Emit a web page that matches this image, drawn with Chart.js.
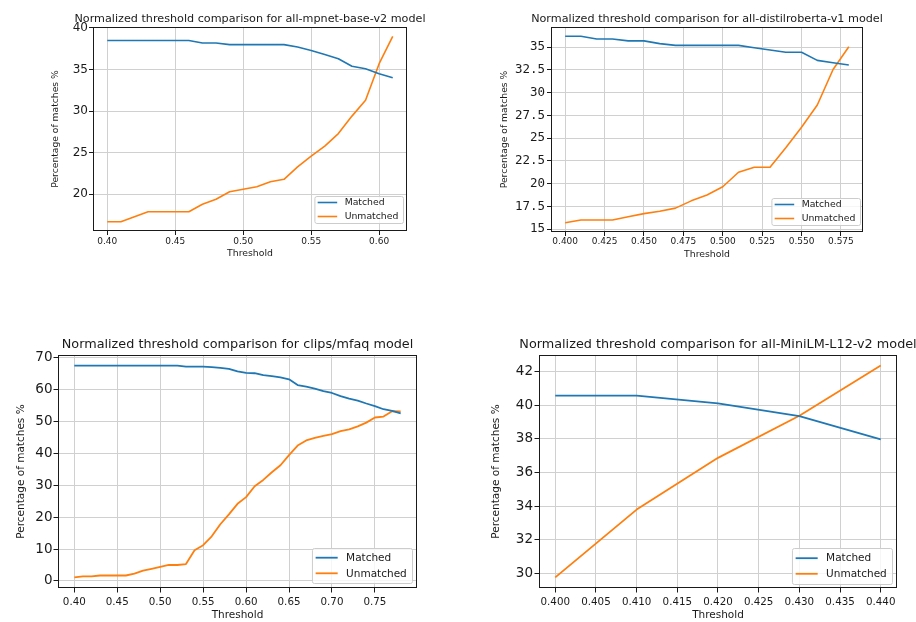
<!DOCTYPE html>
<html>
<head>
<meta charset="utf-8">
<title>Normalized threshold comparison</title>
<script src="https://cdn.jsdelivr.net/npm/chart.js@4.4.1/dist/chart.umd.min.js"></script>
<style>
  html, body { margin: 0; padding: 0; background: #fff; }
  body { width: 916px; height: 622px; position: relative; overflow: hidden; }
  canvas { position: absolute; }
</style>
</head>
<body>
<canvas id="mpnet" width="458" height="300" style="left:0;top:0"></canvas>
<canvas id="distilroberta" width="458" height="300" style="left:458px;top:0"></canvas>
<canvas id="mfaq" width="458" height="322" style="left:0;top:300px"></canvas>
<canvas id="minilm" width="458" height="322" style="left:458px;top:300px"></canvas>
<script>
// ---- data ----

// all-mpnet-base-v2
const mpnetThresholds = [0.40, 0.41, 0.42, 0.43, 0.44, 0.45, 0.46, 0.47, 0.48, 0.49, 0.50,
  0.51, 0.52, 0.53, 0.54, 0.55, 0.56, 0.57, 0.58, 0.59, 0.60, 0.61]
const mpnetMatched = [38.5, 38.5, 38.5, 38.5, 38.5, 38.5, 38.5, 38.2, 38.2, 38.0, 38.0,
  38.0, 38.0, 38.0, 37.7, 37.3, 36.8, 36.3, 35.4, 35.1, 34.5, 34.0]
const mpnetUnmatched = [16.7, 16.7, 17.3, 17.9, 17.9, 17.9, 17.9, 18.8, 19.4, 20.3, 20.6,
  20.9, 21.5, 21.8, 23.3, 24.6, 25.8, 27.3, 29.4, 31.3, 35.7, 39.0]
const mpnetXTicks = [0.40, 0.45, 0.50, 0.55, 0.60]
const mpnetYTicks = [20, 25, 30, 35, 40]

// all-distilroberta-v1
const distilThresholds = [0.40, 0.41, 0.42, 0.43, 0.44, 0.45, 0.46, 0.47, 0.48, 0.49,
  0.50, 0.51, 0.52, 0.53, 0.54, 0.55, 0.56, 0.57, 0.58]
const distilMatched = [36.2, 36.2, 35.9, 35.9, 35.7, 35.7, 35.4, 35.2, 35.2, 35.2,
  35.2, 35.2, 34.95, 34.7, 34.45, 34.45, 33.55, 33.3, 33.05]
const distilUnmatched = [15.7, 16.0, 16.0, 16.0, 16.35, 16.7, 16.95, 17.3, 18.1, 18.75,
  19.65, 21.25, 21.8, 21.8, 23.95, 26.2, 28.65, 32.55, 35.05]
const distilXTicks = [0.400, 0.425, 0.450, 0.475, 0.500, 0.525, 0.550, 0.575]
const distilYTicks = [15, 17.5, 20, 22.5, 25, 27.5, 30, 32.5, 35]

// clips/mfaq
const mfaqThresholds = [0.40, 0.41, 0.42, 0.43, 0.44, 0.45, 0.46, 0.47, 0.48, 0.49,
  0.50, 0.51, 0.52, 0.53, 0.54, 0.55, 0.56, 0.57, 0.58, 0.59,
  0.60, 0.61, 0.62, 0.63, 0.64, 0.65, 0.66, 0.67, 0.68, 0.69,
  0.70, 0.71, 0.72, 0.73, 0.74, 0.75, 0.76, 0.77, 0.78]
const mfaqMatched = [67.6, 67.6, 67.6, 67.6, 67.6, 67.6, 67.6, 67.6, 67.6, 67.6,
  67.6, 67.6, 67.6, 67.3, 67.3, 67.3, 67.1, 66.9, 66.6, 65.8,
  65.3, 65.2, 64.6, 64.3, 63.9, 63.3, 61.5, 61.0, 60.4, 59.6,
  59.0, 58.0, 57.2, 56.6, 55.7, 54.9, 53.9, 53.4, 52.6]
const mfaqUnmatched = [1.1, 1.4, 1.4, 1.7, 1.7, 1.7, 1.7, 2.3, 3.2, 3.8,
  4.4, 5.0, 5.0, 5.3, 9.6, 11.2, 14.0, 17.8, 20.9, 24.2,
  26.3, 29.7, 31.7, 34.1, 36.3, 39.5, 42.5, 44.1, 44.9, 45.5,
  46.1, 47.0, 47.6, 48.5, 49.7, 51.3, 51.6, 53.3, 53.2]
const mfaqXTicks = [0.40, 0.45, 0.50, 0.55, 0.60, 0.65, 0.70, 0.75]
const mfaqYTicks = [0, 10, 20, 30, 40, 50, 60, 70]

// all-MiniLM-L12-v2
const minilmThresholds = [0.40, 0.41, 0.42, 0.43, 0.44]
const minilmMatched = [40.56, 40.56, 40.1, 39.35, 37.97]
const minilmUnmatched = [29.78, 33.8, 36.87, 39.37, 42.34]
const minilmXTicks = [0.400, 0.405, 0.410, 0.415, 0.420, 0.425, 0.430, 0.435, 0.440]
const minilmYTicks = [30, 32, 34, 36, 38, 40, 42]

// ---- styling ----
const FONT = '"DejaVu Sans", sans-serif'
const MONO = '"DejaVu Sans Mono", monospace'
const BLUE = '#1f77b4'
const ORANGE = '#ff7f0e'
const GRID = '#d0d0d0'
const INK = '#1a1a1a'

// matplotlib pads the data range by 5% on each side
function padRange(values) {
  const lo = Math.min(...values)
  const hi = Math.max(...values)
  const m = (hi - lo) * 0.05
  return { min: lo - m, max: hi + m }
}

// Axes frame, axes-centred title and the boxed lower-right legend
const mplAxes = {
  id: 'mplAxes',
  afterDraw(chart, _args, opts) {
    const { ctx, chartArea: a } = chart
    ctx.save()

    ctx.strokeStyle = INK
    ctx.lineWidth = 1
    ctx.strokeRect(Math.round(a.left) + 0.5, Math.round(a.top) + 0.5,
      Math.round(a.right - a.left) - 1, Math.round(a.bottom - a.top) - 1)

    ctx.fillStyle = INK
    ctx.font = `${opts.titleSize}px ${FONT}`
    ctx.textAlign = 'center'
    ctx.textBaseline = 'alphabetic'
    ctx.fillText(opts.title, (a.left + a.right) / 2, opts.titleY)

    const lg = opts.legend
    const em = lg.size
    ctx.font = `${em}px ${FONT}`
    const sets = chart.data.datasets
    const tw = Math.max(...sets.map(d => ctx.measureText(d.label).width))
    const w = 0.35 * em + 2.1 * em + 0.8 * em + tw + 0.5 * em
    const h = lg.height
    const x0 = a.right - lg.inset[0] - w
    const y0 = a.bottom - lg.inset[1] - h
    ctx.beginPath()
    ctx.roundRect(x0 + 0.5, y0 + 0.5, w, h, 2)
    ctx.fillStyle = 'rgba(255,255,255,0.8)'
    ctx.fill()
    ctx.strokeStyle = '#cccccc'
    ctx.stroke()

    sets.forEach((d, i) => {
      const cy = y0 + h / 2 + (i - (sets.length - 1) / 2) * lg.rowGap
      ctx.beginPath()
      ctx.moveTo(x0 + 0.35 * em, cy)
      ctx.lineTo(x0 + 2.45 * em, cy)
      ctx.strokeStyle = d.borderColor
      ctx.lineWidth = d.borderWidth
      ctx.stroke()
      ctx.fillStyle = INK
      ctx.textAlign = 'left'
      ctx.textBaseline = 'middle'
      ctx.fillText(d.label, x0 + 3.25 * em, cy + 0.5)
    })
    ctx.restore()
  },
}

function drawPanel(id, p) {
  const xr = padRange(p.x)
  const yr = padRange(p.matched.concat(p.unmatched))
  const L = p.layout
  const line = (label, ys, color) => ({
    label,
    data: p.x.map((x, i) => ({ x, y: ys[i] })),
    borderColor: color,
    borderWidth: L.lineWidth,
    borderJoinStyle: 'round',
    pointRadius: 0,
    tension: 0,
    fill: false,
  })

  return new Chart(document.getElementById(id), {
    type: 'line',
    data: {
      datasets: [
        line('Matched', p.matched, BLUE),
        line('Unmatched', p.unmatched, ORANGE),
      ],
    },
    options: {
      responsive: false,
      animation: false,
      events: [],
      layout: { padding: L.padding },
      plugins: {
        legend: { display: false },
        tooltip: { enabled: false },
        mplAxes: {
          title: p.title,
          titleSize: L.titleSize,
          titleY: L.titleY,
          legend: L.legend,
        },
      },
      scales: {
        x: {
          type: 'linear',
          min: xr.min,
          max: xr.max,
          afterBuildTicks: s => { s.ticks = p.xTicks.map(v => ({ value: v })) },
          afterFit: s => { s.height = L.xHeight },
          ticks: {
            autoSkip: false,
            maxRotation: 0,
            padding: L.xTickPad,
            color: INK,
            font: { family: FONT, size: L.xTickSize },
            callback: v => v.toFixed(p.xDecimals),
          },
          grid: { color: GRID, lineWidth: 1, tickColor: INK, tickLength: L.tickLength },
          border: { display: false },
          title: {
            display: true,
            text: 'Threshold',
            color: INK,
            font: { family: FONT, size: L.labelSize },
            padding: { top: 0, bottom: L.xTitlePad },
          },
        },
        y: {
          min: yr.min,
          max: yr.max,
          afterBuildTicks: s => { s.ticks = p.yTicks.map(v => ({ value: v })) },
          afterFit: s => { s.width = L.yWidth },
          ticks: {
            autoSkip: false,
            padding: L.yTickPad,
            color: INK,
            font: { family: p.yMono ? MONO : FONT, size: L.yTickSize },
            callback: v => String(v),
          },
          grid: { color: GRID, lineWidth: 1, tickColor: INK, tickLength: L.tickLength },
          border: { display: false },
          title: {
            display: true,
            text: 'Percentage of matches %',
            color: INK,
            font: { family: FONT, size: L.yLabelSize },
            padding: { top: L.yTitlePad, bottom: 0 },
          },
        },
      },
    },
    plugins: [mplAxes],
  })
}

const topLayout = {
  lineWidth: 1.6, titleSize: 11.2, titleY: 22, xHeight: 30,
  xTickSize: 9, labelSize: 9.3, yLabelSize: 9.2, yTickSize: 12, tickLength: 4,
}
const bottomLayout = {
  lineWidth: 1.8, titleSize: 12.8, titleY: 48.3, xHeight: 34,
  xTickSize: 10.3, labelSize: 10.5, yLabelSize: 10.5, yTickSize: 13.5, tickLength: 4.5,
  xTickPad: 4, xTitlePad: 0,
}

drawPanel('mpnet', {
  title: 'Normalized threshold comparison for all-mpnet-base-v2 model',
  x: mpnetThresholds, matched: mpnetMatched, unmatched: mpnetUnmatched,
  xTicks: mpnetXTicks, yTicks: mpnetYTicks, xDecimals: 2,
  layout: { ...topLayout,
    padding: { left: 0, top: 27, right: 51, bottom: 39 },
    yWidth: 93, xTickPad: 1, xTitlePad: 1.4, yTickPad: 1, yTitlePad: 50.5,
    legend: { size: 9.3, height: 27, rowGap: 14, inset: [4, 8] } },
})

drawPanel('distilroberta', {
  title: 'Normalized threshold comparison for all-distilroberta-v1 model',
  x: distilThresholds, matched: distilMatched, unmatched: distilUnmatched,
  xTicks: distilXTicks, yTicks: distilYTicks, xDecimals: 3, yMono: true,
  layout: { ...topLayout, yTickSize: 12.5,
    padding: { left: 0, top: 27, right: 53, bottom: 38 },
    yWidth: 93, xTickPad: 0, xTitlePad: 2.1, yTickPad: 2, yTitlePad: 41.5,
    legend: { size: 9.3, height: 27, rowGap: 14, inset: [3, 7] } },
})

drawPanel('mfaq', {
  title: 'Normalized threshold comparison for clips/mfaq model',
  x: mfaqThresholds, matched: mfaqMatched, unmatched: mfaqUnmatched,
  xTicks: mfaqXTicks, yTicks: mfaqYTicks, xDecimals: 2,
  layout: { ...bottomLayout,
    padding: { left: 0, top: 55, right: 41, bottom: 0 },
    yWidth: 58, yTickPad: 1, yTitlePad: 15.4,
    legend: { size: 10.5, height: 35, rowGap: 15.6, inset: [5, 5] } },
})

drawPanel('minilm', {
  title: 'Normalized threshold comparison for all-MiniLM-L12-v2 model',
  x: minilmThresholds, matched: minilmMatched, unmatched: minilmUnmatched,
  xTicks: minilmXTicks, yTicks: minilmYTicks, xDecimals: 3,
  layout: { ...bottomLayout,
    padding: { left: 0, top: 55, right: 19, bottom: 0 },
    yWidth: 81, yTickPad: 1.5, yTitlePad: 32.4,
    legend: { size: 10.5, height: 36, rowGap: 15.6, inset: [5, 4] } },
})
</script>
</body>
</html>
